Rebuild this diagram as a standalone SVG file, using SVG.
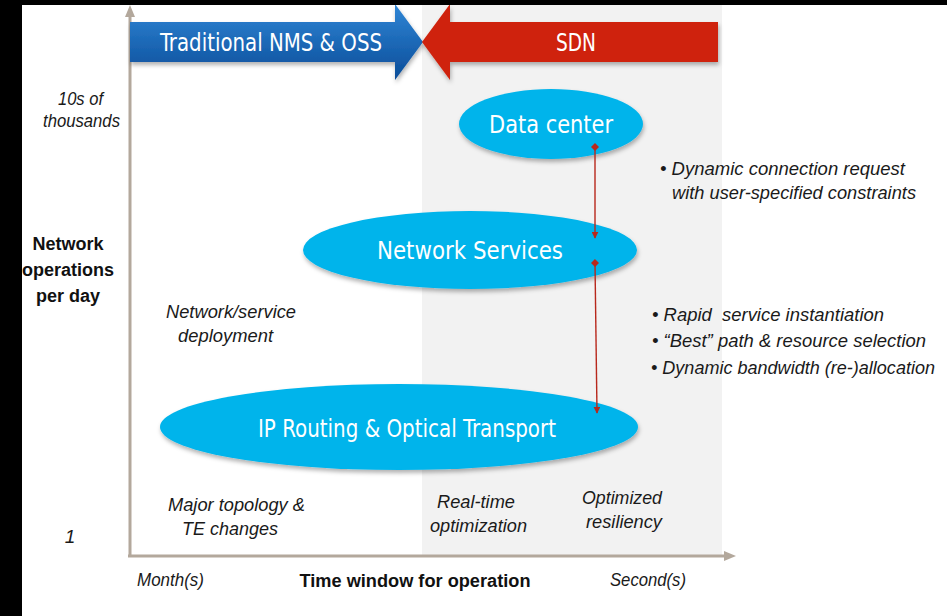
<svg xmlns="http://www.w3.org/2000/svg" width="947" height="616" viewBox="0 0 947 616">
  <style>
    .it { font-family: "Liberation Sans", Arial, sans-serif; font-style: italic; font-size: 19px; fill: #1a1a1a; }
    .bd { font-family: "Liberation Sans", Arial, sans-serif; font-weight: bold; font-size: 18px; fill: #111; }
    .wh { font-family: "DejaVu Sans Condensed", "DejaVu Sans", sans-serif; font-size: 24px; fill: #ffffff; }
    .ell { fill: #00b4eb; filter: url(#sh); }
    .conn { stroke: #b8281c; stroke-width: 1.4; fill: none; marker-start: url(#dia); marker-end: url(#arr); }
    .axis { stroke: #b3a89c; stroke-width: 3; fill: none; }
  </style>
  <defs>
    <filter id="sh" x="-10%" y="-20%" width="120%" height="150%">
      <feDropShadow dx="1" dy="3" stdDeviation="2" flood-color="#000" flood-opacity="0.3"/>
    </filter>
    <linearGradient id="blue" x1="0" y1="0" x2="0" y2="1">
      <stop offset="0" stop-color="#2f86d6"/>
      <stop offset="1" stop-color="#0a4c98"/>
    </linearGradient>
    <marker id="arr" viewBox="0 0 10 10" refX="9" refY="5" markerWidth="7" markerHeight="7" orient="auto" markerUnits="userSpaceOnUse">
      <path d="M0,0 L10,5 L0,10 z" fill="#b8281c"/>
    </marker>
    <marker id="dia" viewBox="0 0 10 10" refX="5" refY="5" markerWidth="8" markerHeight="8" orient="auto" markerUnits="userSpaceOnUse">
      <path d="M0,5 L5,0 L10,5 L5,10 z" fill="#b8281c"/>
    </marker>
  </defs>

  <rect x="0" y="0" width="947" height="616" fill="#ffffff"/>
  <rect x="422" y="5" width="300" height="550" fill="#f2f2f2"/>

  <!-- axes -->
  <g id="axes">
    <line class="axis" x1="130" y1="14" x2="130" y2="556"/>
    <polygon points="130,5 125,17 135,17" fill="#b3a89c"/>
    <line class="axis" x1="128" y1="556" x2="726" y2="556"/>
    <polygon points="736,556 724,551 724,561" fill="#b3a89c"/>
  </g>

  <!-- banner arrows -->
  <g id="nms-arrow">
    <polygon points="130,22 395,22 395,4 423,42 395,80 395,62 130,62" fill="url(#blue)" filter="url(#sh)"/>
    <text class="wh" x="271" y="51" text-anchor="middle" textLength="222" lengthAdjust="spacingAndGlyphs">Traditional NMS &amp; OSS</text>
  </g>
  <g id="sdn-arrow">
    <polygon points="718,22 450,22 450,4 422,42 450,80 450,62 718,62" fill="#cf230b" filter="url(#sh)"/>
    <text class="wh" x="576" y="51" text-anchor="middle" textLength="40" lengthAdjust="spacingAndGlyphs">SDN</text>
  </g>

  <!-- nodes -->
  <g id="data-center">
    <ellipse class="ell" cx="551" cy="124" rx="92" ry="35"/>
    <text class="wh" x="551" y="133" text-anchor="middle" textLength="124" lengthAdjust="spacingAndGlyphs">Data center</text>
  </g>
  <g id="network-services">
    <ellipse class="ell" cx="470" cy="250" rx="167" ry="39"/>
    <text class="wh" x="470" y="259" text-anchor="middle" textLength="186" lengthAdjust="spacingAndGlyphs">Network Services</text>
  </g>
  <g id="ip-routing">
    <ellipse class="ell" cx="399" cy="427" rx="239" ry="43"/>
    <text class="wh" x="407" y="437" text-anchor="middle" textLength="298" lengthAdjust="spacingAndGlyphs">IP Routing &amp; Optical Transport</text>
  </g>

  <!-- connectors -->
  <g id="connectors">
    <line class="conn" x1="595" y1="147" x2="595" y2="238"/>
    <line class="conn" x1="595" y1="263" x2="597" y2="413"/>
  </g>

  <!-- axis labels -->
  <g id="labels">
    <text class="it" x="58" y="105" textLength="45" lengthAdjust="spacingAndGlyphs">10s of</text>
    <text class="it" x="43" y="127" textLength="77" lengthAdjust="spacingAndGlyphs">thousands</text>
    <text class="it" x="70" y="543" text-anchor="middle">1</text>
    <text class="bd" x="68" y="250" text-anchor="middle">Network</text>
    <text class="bd" x="68" y="276" text-anchor="middle">operations</text>
    <text class="bd" x="68" y="302" text-anchor="middle">per day</text>
    <text class="it" x="137" y="586" textLength="67" lengthAdjust="spacingAndGlyphs">Month(s)</text>
    <text class="bd" x="415" y="587" text-anchor="middle" textLength="231" lengthAdjust="spacingAndGlyphs">Time window for operation</text>
    <text class="it" x="610" y="586" textLength="76" lengthAdjust="spacingAndGlyphs">Second(s)</text>

    <text class="it" x="166" y="318" textLength="130" lengthAdjust="spacingAndGlyphs">Network/service</text>
    <text class="it" x="178" y="342" textLength="95" lengthAdjust="spacingAndGlyphs">deployment</text>
    <text class="it" x="168" y="511" textLength="137" lengthAdjust="spacingAndGlyphs">Major topology &amp;</text>
    <text class="it" x="182" y="535" textLength="96" lengthAdjust="spacingAndGlyphs">TE changes</text>
    <text class="it" x="437" y="508" textLength="78" lengthAdjust="spacingAndGlyphs">Real-time</text>
    <text class="it" x="430" y="532" textLength="97" lengthAdjust="spacingAndGlyphs">optimization</text>
    <text class="it" x="582" y="504" textLength="80" lengthAdjust="spacingAndGlyphs">Optimized</text>
    <text class="it" x="586" y="528" textLength="76" lengthAdjust="spacingAndGlyphs">resiliency</text>

    <text class="it" x="660" y="175" textLength="245" lengthAdjust="spacingAndGlyphs">• Dynamic connection request</text>
    <text class="it" x="672" y="199" textLength="244" lengthAdjust="spacingAndGlyphs">with user-specified constraints</text>
    <text class="it" x="652" y="321" style="white-space:pre" textLength="232" lengthAdjust="spacingAndGlyphs">• Rapid  service instantiation</text>
    <text class="it" x="652" y="347" textLength="274" lengthAdjust="spacingAndGlyphs">• “Best” path &amp; resource selection</text>
    <text class="it" x="651" y="374" style="font-size:18px" textLength="284" lengthAdjust="spacingAndGlyphs">• Dynamic bandwidth (re-)allocation</text>
  </g>

  <!-- frame -->
  <rect x="0" y="0" width="947" height="5" fill="#000"/>
  <rect x="0" y="0" width="22" height="616" fill="#000"/>
</svg>
